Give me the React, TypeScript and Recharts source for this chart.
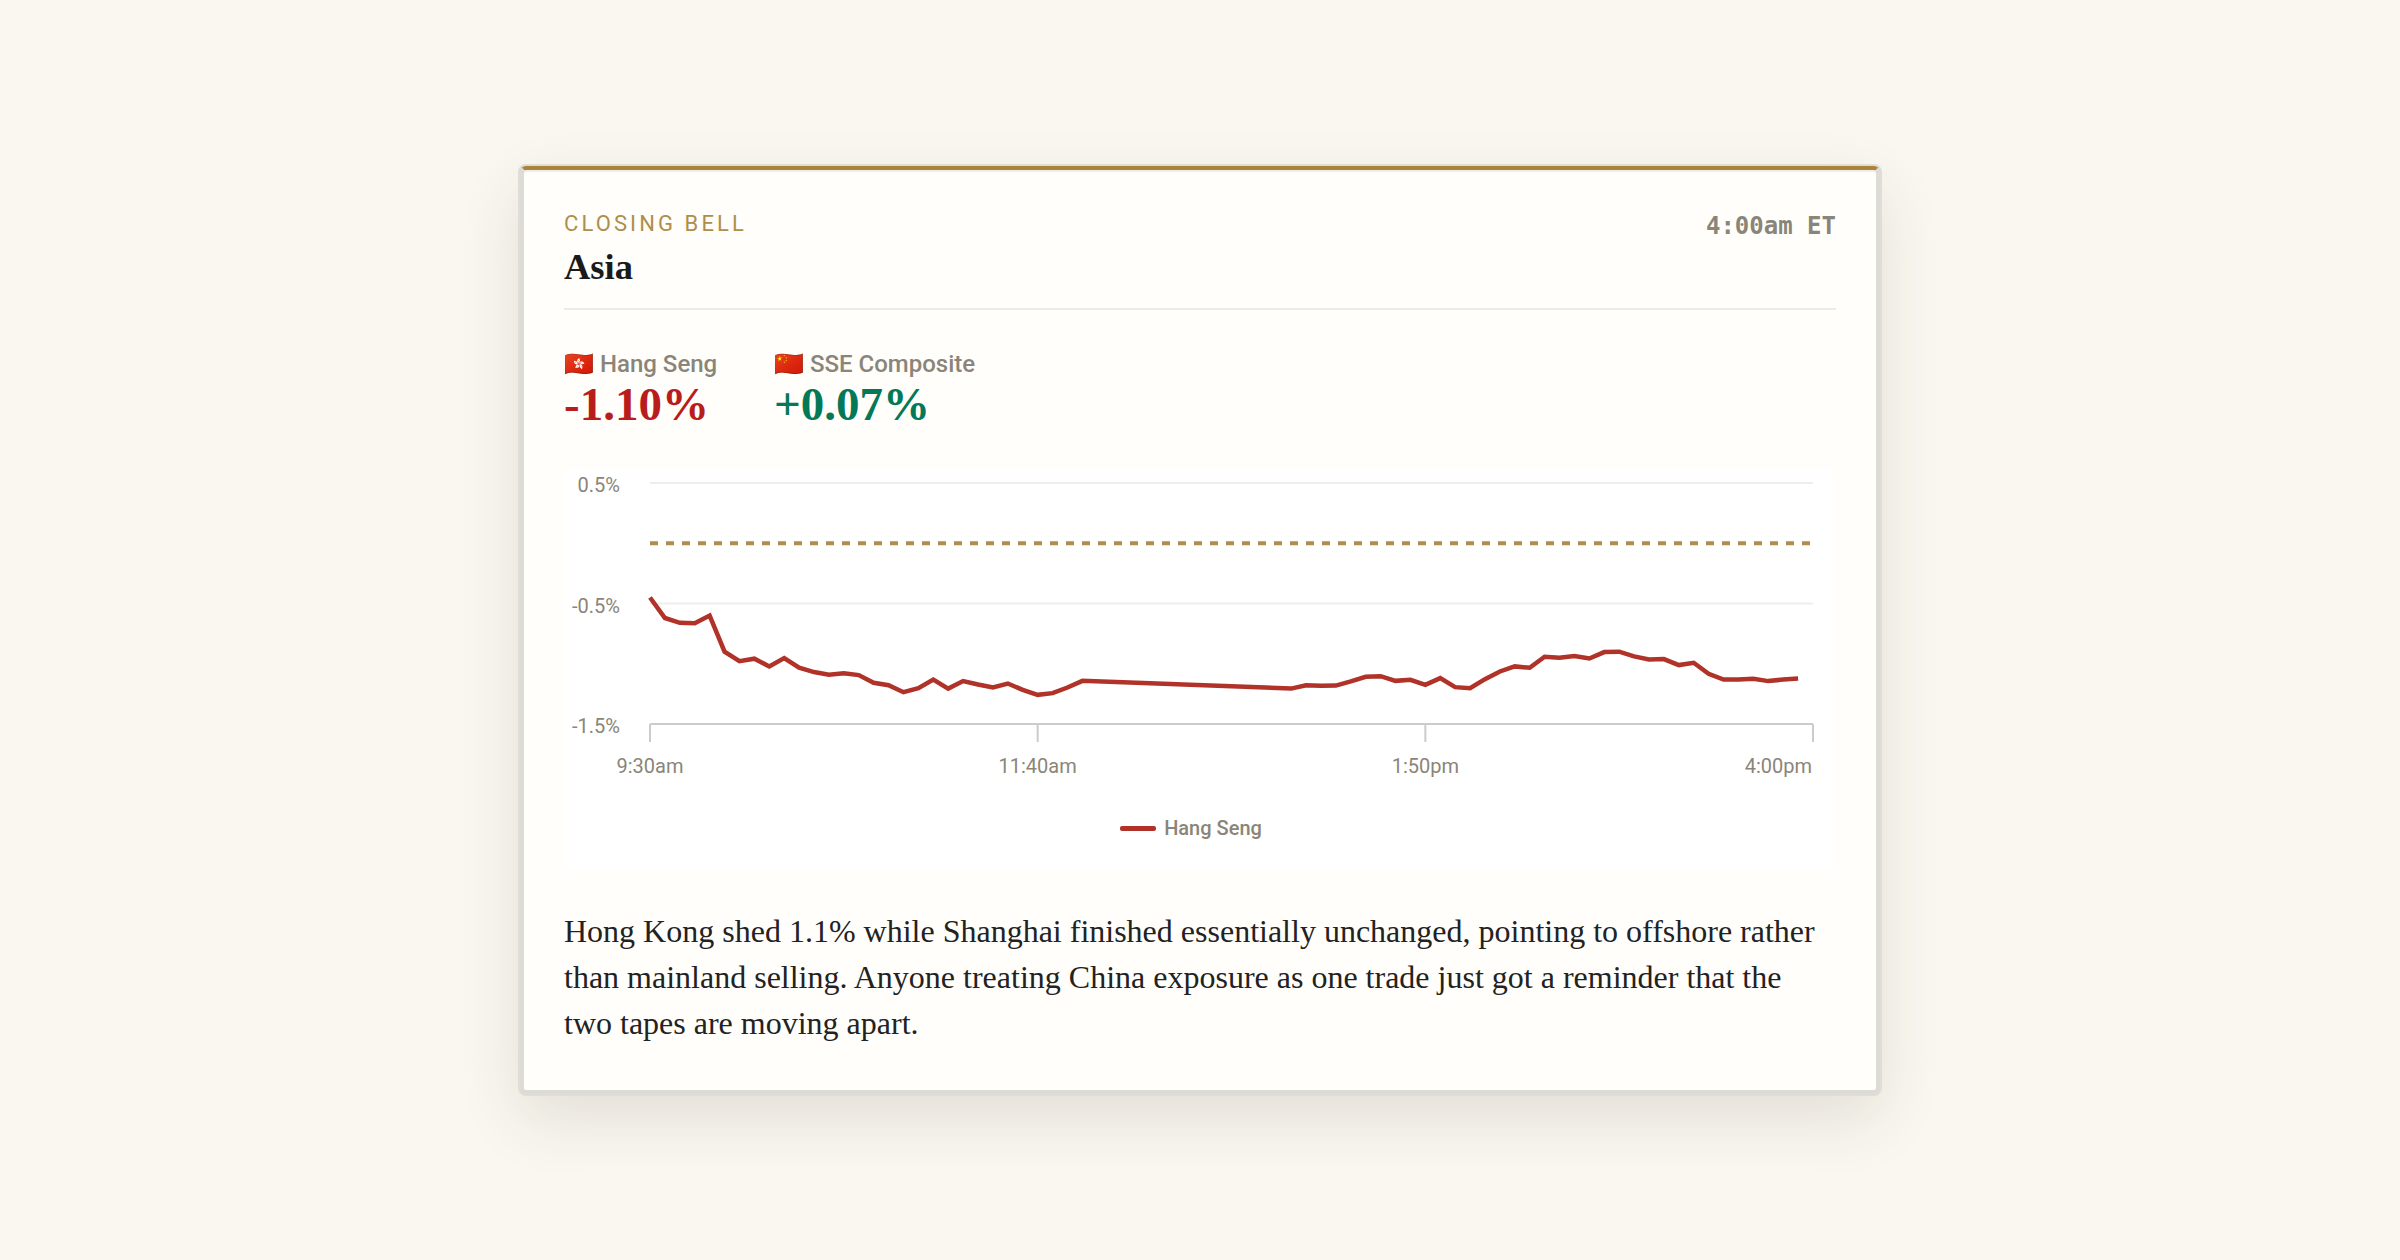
import { CartesianGrid, Legend, Line, LineChart, ReferenceLine, XAxis, YAxis } from 'recharts';

// minutes after the 9:30am open, five minute bars with the midday break left out
const minutes = [
  0, 5, 10, 15, 20, 25, 30, 35, 40, 45, 50, 55, 60, 65, 70, 75, 80, 85, 90, 95, 100, 105, 110, 115, 120, 125, 130,
  135, 140, 145, 215, 220, 225, 230, 235, 240, 245, 250, 255, 260, 265, 270, 275, 280, 285, 290, 295, 300, 305, 310,
  315, 320, 325, 330, 335, 340, 345, 350, 355, 360, 365, 370, 375, 380, 385,
];
const hangSeng = [
  -0.45, -0.62, -0.66, -0.664, -0.6, -0.9, -0.978, -0.958, -1.022, -0.953, -1.033, -1.069, -1.092, -1.078, -1.094,
  -1.158, -1.178, -1.236, -1.203, -1.131, -1.206, -1.144, -1.172, -1.197, -1.164, -1.217, -1.258, -1.244, -1.197,
  -1.142, -1.206, -1.178, -1.183, -1.181, -1.147, -1.108, -1.103, -1.142, -1.133, -1.175, -1.119, -1.194, -1.203,
  -1.128, -1.064, -1.022, -1.033, -0.942, -0.95, -0.936, -0.956, -0.903, -0.9, -0.939, -0.964, -0.961, -1.011,
  -0.992, -1.083, -1.131, -1.131, -1.125, -1.144, -1.131, -1.122,
];
const xTicks = [0, 130, 260, 390];
const xTickLabels = ['9:30am', '11:40am', '1:50pm', '4:00pm'];
const yTicks = [0.5, -0.5, -1.5];

const chartData = minutes.map((m, i) => ({ minute: m, hangSeng: hangSeng[i] }));

const sans = 'Roboto, sans-serif';
const serif = '"Liberation Serif", serif';
const muted = '#8a8578';
const gold = '#b08d4a';
const lineRed = '#b03228';

function Quote({ flag, name, value, color }: { flag: string; name: string; value: string; color: string }) {
  return (
    <div>
      <div style={{ fontFamily: sans, fontSize: 24, fontWeight: 500, color: muted, lineHeight: '28px' }}>
        {flag} {name}
      </div>
      <div style={{ fontFamily: serif, fontSize: 47, fontWeight: 700, color, lineHeight: '52px' }}>{value}</div>
    </div>
  );
}

function ChartLegend() {
  return (
    <div style={{ display: 'flex', justifyContent: 'center', alignItems: 'center', gap: 8, fontFamily: sans, fontSize: 20, fontWeight: 500, color: muted, marginLeft: 4 }}>
      <span style={{ width: 36, height: 5, borderRadius: 2, background: lineRed }} />
      Hang Seng
    </div>
  );
}

// the last label sits inside the plot, ending at its tick
function TimeTick({ x, y, payload }: any) {
  const isLast = payload.value === xTicks[xTicks.length - 1];
  return (
    <text x={isLast ? x - 1 : x} y={y} dy="0.71em" textAnchor={isLast ? 'end' : 'middle'} fontFamily={sans} fontSize={20} fill={muted}>
      {xTickLabels[xTicks.indexOf(payload.value)]}
    </text>
  );
}

export default function App() {
  return (
    <div style={{ position: 'absolute', inset: 0, width: 2400, height: 1260, background: '#faf7f0', overflow: 'hidden' }}>
      <div
        style={{
          position: 'absolute', left: 520, top: 166, width: 1360, height: 928, boxSizing: 'border-box',
          background: '#fffefa', border: '4px solid #dddbd5', borderTop: '4px solid #ad8338', borderRadius: 6,
          boxShadow: 'inset 0 2px 0 #eeede7, 0 0 0 2px #dfddd7, 0 24px 64px rgba(60,50,30,0.12)',
        }}
      >
        <div style={{ position: 'absolute', left: 40, top: 41, fontFamily: sans, fontSize: 22, letterSpacing: 3.1, color: gold, lineHeight: '26px' }}>
          CLOSING BELL
        </div>
        <div style={{ position: 'absolute', right: 40, top: 42, fontFamily: '"DejaVu Sans Mono", monospace', fontSize: 24, fontWeight: 700, color: muted, lineHeight: '28px' }}>
          4:00am ET
        </div>
        <div style={{ position: 'absolute', left: 40, top: 75, fontFamily: serif, fontSize: 36.5, fontWeight: 700, color: '#1a1a1a', lineHeight: '44px' }}>
          Asia
        </div>
        <div style={{ position: 'absolute', left: 40, width: 1272, top: 138, height: 2, background: '#ecebe6' }} />
        <div style={{ position: 'absolute', left: 40, top: 180 }}>
          <Quote flag="🇭🇰" name="Hang Seng" value="-1.10%" color="#b91c1c" />
        </div>
        <div style={{ position: 'absolute', left: 250, top: 180 }}>
          <Quote flag="🇨🇳" name="SSE Composite" value="+0.07%" color="#047857" />
        </div>
        <div style={{ position: 'absolute', left: 41, top: 300, background: '#fff' }}>
          <LineChart width={1267} height={397} data={chartData} margin={{ top: 13, right: 19, bottom: 0, left: 0 }}>
            <CartesianGrid horizontal vertical={false} stroke="#eeeeee" strokeWidth={2} />
            <XAxis
              dataKey="minute"
              type="number"
              domain={[0, 390]}
              ticks={xTicks}
              interval={0}
              height={119}
              stroke="#cccccc"
              strokeWidth={2}
              tickSize={18}
              tickMargin={17}
              tick={<TimeTick />}
            />
            <YAxis
              domain={[-1.5, 0.5]}
              ticks={yTicks}
              width={85}
              axisLine={false}
              tickLine={false}
              tickMargin={24}
              tickFormatter={(v: number) => `${v}%`}
              tick={{ fontFamily: sans, fontSize: 20, fill: muted, dy: 2 }}
            />
            <ReferenceLine y={0} stroke={gold} strokeWidth={4} strokeDasharray="8 8" />
            <Legend content={<ChartLegend />} verticalAlign="bottom" wrapperStyle={{ bottom: 27 }} />
            <Line dataKey="hangSeng" name="Hang Seng" stroke={lineRed} strokeWidth={4.5} dot={false} isAnimationActive={false} />
          </LineChart>
        </div>
        <div style={{ position: 'absolute', left: 40, width: 1272, top: 738, fontFamily: serif, fontSize: 32, color: '#222222', lineHeight: '46px' }}>
          Hong Kong shed 1.1% while Shanghai finished essentially unchanged, pointing to offshore rather than mainland selling. Anyone treating China exposure as one trade just got a reminder that the two tapes are moving apart.
        </div>
      </div>
    </div>
  );
}
